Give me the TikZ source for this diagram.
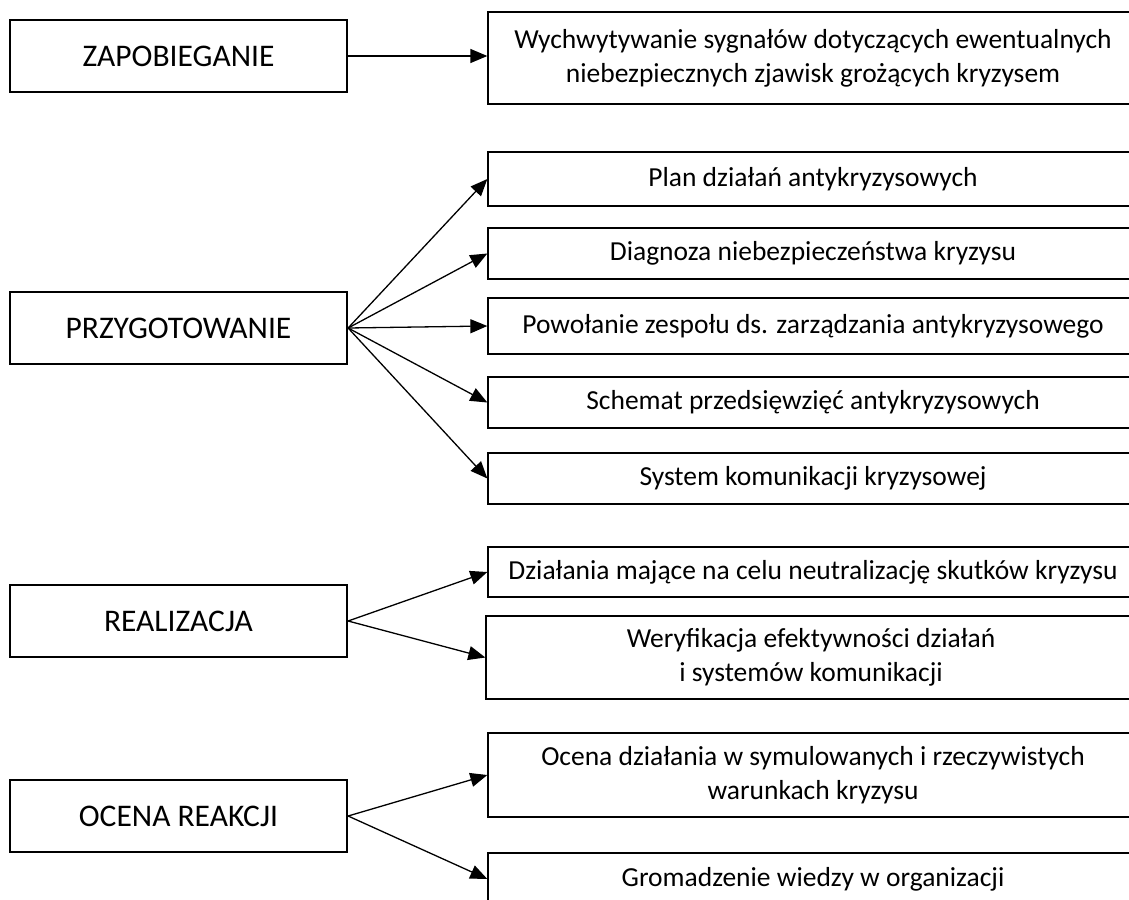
\documentclass[tikz,border=0pt]{standalone}
\usepackage{fontspec}
\setmainfont{Carlito}
\usetikzlibrary{arrows.meta}
\begin{document}
\begin{tikzpicture}[x=1pt,y=-1pt,
  phase/.style={draw, line width=2.2pt, minimum width=337pt, minimum height=72pt,
    inner sep=0pt, font=\fontsize{31.5}{38}\selectfont},
  task/.style={draw, line width=1.3pt, minimum width=650pt, inner sep=0pt,
    align=center, font=\fontsize{27.5}{34}\selectfont},
  link/.style={line width=1.3pt, -{Triangle[length=17pt,width=14pt]}}]
\useasboundingbox (0,0) rectangle (1129,899);
\fill[white] (0,0) rectangle (1129,899);
\clip (0,0) rectangle (1129,899);

% phases
\node[phase] (zap) at (178.5,56) {ZAPOBIEGANIE};
\node[phase] (prz) at (178.5,328) {PRZYGOTOWANIE};
\node[phase] (rea) at (178.5,621) {REALIZACJA};
\node[phase] (oce) at (178.5,816) {OCENA REAKCJI};

% tasks
\node[task, minimum height=92pt] (sig) at (813,58)
  {Wychwytywanie sygnałów dotyczących ewentualnych\\niebezpiecznych zjawisk grożących kryzysem};
\node[task, minimum height=54pt] (plan) at (813,179) {Plan działań antykryzysowych};
\node[task, minimum height=51pt] (diag) at (813,253.5) {Diagnoza niebezpieczeństwa kryzysu};
\node[task, minimum height=56pt] (zesp) at (813,326) {Powołanie zespołu ds. zarządzania antykryzysowego};
\node[task, minimum height=51pt] (schem) at (813,402.5) {Schemat przedsięwzięć antykryzysowych};
\node[task, minimum height=51pt] (kom) at (813,478.5) {System komunikacji kryzysowej};
\node[task, minimum height=50pt] (neut) at (813,572) {Działania mające na celu neutralizację skutków kryzysu};
\node[task, minimum height=83pt] (wer) at (811,657.5)
  {Weryfikacja efektywności działań\\i systemów komunikacji};
\node[task, minimum height=84pt] (symul) at (813,775)
  {Ocena działania w symulowanych i rzeczywistych\\warunkach kryzysu};
\node[task, minimum height=52pt] (wiedza) at (813,879) {Gromadzenie wiedzy w organizacji};

% connectors
\draw[link] (zap.east) -- (zap.east -| sig.west);
\foreach \t in {plan,diag,zesp,schem,kom}
  \draw[link] (prz.east) -- (\t.west);
\foreach \t in {neut,wer}
  \draw[link] (rea.east) -- (\t.west);
\foreach \t in {symul,wiedza}
  \draw[link] (oce.east) -- (\t.west);
\end{tikzpicture}
\end{document}
